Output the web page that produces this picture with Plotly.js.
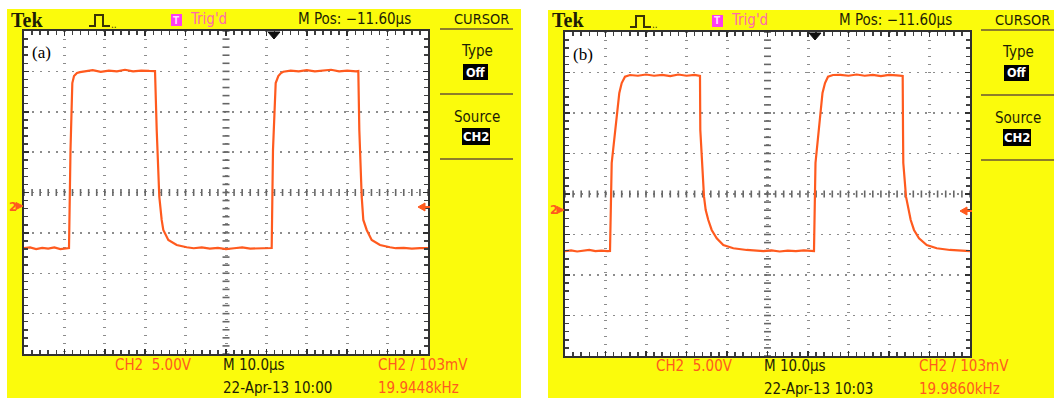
<!DOCTYPE html>
<html><head><meta charset="utf-8">
<script src="https://cdn.plot.ly/plotly-3.0.1.min.js"></script>
<style>html,body{margin:0;padding:0;background:#fff}#chart{width:1054px;height:398px}</style>
</head><body><div id="chart"></div>
<script>
// ---------- DATA (time in µs, CH2 in V as displayed on screen, 10 µs/div, 5 V/div) ----------
const tA = [0,1.5,3,4.5,6,7.5,9,10.5,11.14,11.51,11.81,11.96,12.38,13.12,13.86,15,17,19,21,23,25,27,29,31,32.3,
  32.43,32.85,33.49,34.08,34.48,35.72,37.8,40.27,42,44,46,48,50,52,54,56,58,60,61.2,
  61.31,61.63,62.13,62.3,62.95,63.61,64.18,66,68,70,72,74,76,78,80,82.2,
  82.75,83.0,83.59,83.99,84.83,86.06,88.12,90.59,92,94,96,98,100];
const vA = [-6.9,-6.8,-7.0,-6.85,-6.95,-6.8,-7.0,-6.9,-6.87,5.26,12.69,13.55,14.42,14.79,14.91,15.0,15.15,14.95,15.1,15.0,15.2,15.0,15.1,15.05,15.0,
  15.04,7.74,-0.52,-3.4,-4.64,-5.88,-6.5,-6.78,-6.9,-6.8,-6.95,-6.85,-7.0,-6.9,-6.8,-6.95,-6.9,-6.85,-6.9,
  -6.87,5.26,12.69,13.55,14.42,14.79,14.95,15.1,15.0,15.15,15.0,15.1,15.2,15.0,15.1,15.0,
  15.04,7.74,-0.52,-3.4,-4.64,-5.88,-6.5,-6.78,-6.9,-6.85,-6.95,-6.9,-6.9];

const tB = [0,1.5,3,4.5,6,7.5,9,10.5,11.11,11.53,11.78,12.35,12.91,13.41,14.0,14.81,16.05,18,20,22,24,26,28,30,32,33.2,
  33.33,33.41,33.9,34.32,34.74,35.38,36.22,37.46,39.09,41.56,44.86,47,49,51,53,55,57,59,61.0,
  61.48,61.85,62.1,62.59,63.09,63.58,64.2,64.94,66.17,68,70,72,74,76,78,80,81.9,
  83.38,83.46,83.53,84.2,84.77,85.36,86.17,87.41,89.31,91.78,95.06,97,100];
const vB = [-7.05,-6.95,-7.1,-7.0,-6.9,-7.05,-7.0,-7.05,-7.04,3.83,5.06,7.9,10.37,12.47,13.7,14.48,14.69,14.6,14.75,14.6,14.7,14.55,14.75,14.6,14.7,14.65,
  14.57,7.9,3.83,-0.33,-1.98,-3.21,-4.44,-5.47,-6.3,-6.7,-6.91,-7.0,-7.05,-6.95,-7.1,-7.0,-7.05,-6.95,-7.0,
  -7.04,3.83,5.06,7.9,10.37,12.47,13.7,14.48,14.69,14.7,14.6,14.75,14.6,14.7,14.55,14.7,14.65,
  14.57,7.9,3.83,-0.33,-1.98,-3.21,-4.44,-5.47,-6.3,-6.7,-6.91,-7.0,-7.05];

const panelLabels = ['(a)','(b)'];
const timeStamps = ['22-Apr-13 10:00','22-Apr-13 10:03'];
const freqs = ['19.9448kHz','19.9860kHz'];
const headerTexts = {tek:'Tek', trig:"Trig'd", mpos:'M Pos: \u221211.60\u00b5s', menu:'CURSOR', type:'Type', off:'Off', source:'Source', ch:'CH2'};
const footTexts = {ch:'CH2  5.00V', m:'M 10.0\u00b5s', trig:'CH2 / 103mV'};

// ---------- LAYOUT HELPERS ----------
const W = 1054, H = 398;
const fx = x => x / W, fy = y => 1 - y / H;
const YEL = '#fbfb0c', ORG = '#ff5a1e', DARK = '#1e1e05', OLIVE = '#8e7e2a';
const FONT = 'Liberation Sans Narrow, DejaVu Sans Condensed, Liberation Sans, Arial, sans-serif';
const shapes = [], annotations = [];

function rect(x0,y0,x1,y1,fill,layer){shapes.push({type:'rect',xref:'paper',yref:'paper',x0:fx(x0),x1:fx(x1),y0:fy(y1),y1:fy(y0),fillcolor:fill,line:{width:0},layer:layer||'below'});}
function line(x0,y0,x1,y1,color,w){shapes.push({type:'line',xref:'paper',yref:'paper',x0:fx(x0),x1:fx(x1),y0:fy(y0),y1:fy(y1),line:{color:color,width:w}});}
function path(pts,fill,color,w,close){let d='M'+pts.map(p=>fx(p[0]).toFixed(5)+','+fy(p[1]).toFixed(5)).join(' L')+(close?' Z':'');
  shapes.push({type:'path',xref:'paper',yref:'paper',path:d,fillcolor:fill||'rgba(0,0,0,0)',line:{color:color,width:w},layer:'above'});}
function text(x,y,t,opts){opts=opts||{};annotations.push({xref:'paper',yref:'paper',x:fx(x),y:fy(y),text:t,showarrow:false,
  xanchor:opts.anchor||'left',yanchor:'middle',font:{family:opts.family||FONT,size:opts.size||14.5,color:opts.color||DARK,weight:opts.weight||'normal'},
  bgcolor:opts.bg||'rgba(0,0,0,0)',borderpad:opts.pad||0});}

const grids = [{dx:0,dy:0,gx0:24,gx1:428,gy0:31,gy1:354,gnd:206},{dx:541,dy:1,gx0:565,gx1:970,gy0:32,gy1:356,gnd:210}];

grids.forEach((g,i)=>{
  const dx=g.dx, dy=g.dy;
  rect(7+dx,9+dy,i===0?521:1054,398,YEL);
  rect(g.gx0,g.gy0,g.gx1,g.gy1,'#ffffff');
  // header
  text(10+dx,19.5+dy,headerTexts.tek,{family:'Liberation Serif, DejaVu Serif, serif',size:20,weight:'bold',color:DARK});
  path([[89+dx,26+dy],[95+dx,26+dy],[95+dx,15+dy],[103+dx,15+dy],[103+dx,26+dy],[110+dx,26+dy]],null,'#3a3405',2);
  text(110+dx,24+dy,'..',{size:10,color:'#3a3405'});
  rect(171+dx,14+dy,182+dx,26+dy,'#ff3cf0','above');
  text(176.5+dx,20+dy,'T',{anchor:'center',size:10,color:'#ffd8ff',weight:'bold'});
  text(189+dx,19+dy,headerTexts.trig,{color:'#ff6aa8',size:15});
  text(297+dx,19+dy,headerTexts.mpos,{size:15});
  text(481+dx,19+dy,headerTexts.menu,{anchor:'center',size:14.5});
  line(440+dx,29+dy,513+dx,29+dy,OLIVE,2);
  text(477+dx,51+dy,headerTexts.type,{anchor:'center',size:15});
  rect(463+dx,64+dy,488+dx,80+dy,'#000000','above');
  text(475.5+dx,72+dy,headerTexts.off,{anchor:'center',size:12.5,color:'#ffffff',weight:'bold'});
  line(440+dx,94+dy,513+dx,94+dy,OLIVE,2);
  text(477+dx,117+dy,headerTexts.source,{anchor:'center',size:15});
  rect(462+dx,128+dy,490+dx,145+dy,'#000000','above');
  text(476+dx,136.5+dy,headerTexts.ch,{anchor:'center',size:13,color:'#ffffff',weight:'bold'});
  line(440+dx,159+dy,513+dx,159+dy,OLIVE,2);
  // panel label
  text(31+dx,53+dy,panelLabels[i],{family:'Liberation Serif, DejaVu Serif, serif',size:17,color:'#000'});
  // trigger position arrow (top)
  path([[268+dx,g.gy0+1],[280+dx,g.gy0+1],[274+dx,g.gy0+8]],'#111','#111',1,true);
  // ground marker (left) and trigger level (right)
  text(8+dx,g.gnd,'2',{size:13,color:ORG,weight:'bold'});
  path([[16+dx,g.gnd-3.5],[23+dx,g.gnd],[16+dx,g.gnd+3.5]],ORG,ORG,1,true);
  path([[g.gx1-10,g.gnd+1],[g.gx1-3,g.gnd-3],[g.gx1-3,g.gnd+5]],ORG,ORG,1,true);
  line(g.gx1-4,g.gnd+1,g.gx1+2,g.gnd+1,ORG,2);
  // footer
  text(114+dx,365+dy,footTexts.ch,{color:ORG,size:15});
  text(222+dx,365+dy,footTexts.m,{size:15});
  text(377+dx,365+dy,footTexts.trig,{color:ORG,size:15});
  text(222+dx,388+dy,timeStamps[i],{size:15});
  text(377+dx,388+dy,freqs[i],{color:ORG,size:15});
});

function axX(g){return {domain:[fx(g.gx0),fx(g.gx1)],range:[0,100],tick0:0,dtick:10,showticklabels:false,showgrid:true,
  gridcolor:'#8c8c8c',gridwidth:3,griddash:'1px,7px',zeroline:false,showline:true,linecolor:'#303030',linewidth:2,mirror:'allticks',
  ticks:'inside',ticklen:5,tickwidth:1.5,tickcolor:'#303030',minor:{dtick:2,ticks:'inside',ticklen:4,tickwidth:1.5,tickcolor:'#404040',showgrid:false},fixedrange:true};}
function axY(g){return {domain:[fy(g.gy1),fy(g.gy0)],range:[-20,20],tick0:0,dtick:5,showticklabels:false,showgrid:true,
  gridcolor:'#8c8c8c',gridwidth:1.5,griddash:'2px,6px',zeroline:false,showline:true,linecolor:'#303030',linewidth:2,mirror:'allticks',
  ticks:'inside',ticklen:5,tickwidth:1.5,tickcolor:'#303030',minor:{dtick:1,ticks:'inside',ticklen:4,tickwidth:1.5,tickcolor:'#404040',showgrid:false},fixedrange:true};}

// centre graticule tick marks (decoration)
const cxT=[],cyT=[],vxT=[],vyT=[];
for(let k=0;k<=50;k++){cxT.push(k*2);cyT.push(0);}
for(let k=0;k<=40;k++){vxT.push(50);vyT.push(-20+k);}

const traces=[];
[['x','y'],['x2','y2']].forEach(ax=>{
  traces.push({type:'scatter',mode:'markers',x:cxT,y:cyT,xaxis:ax[0],yaxis:ax[1],marker:{symbol:'line-ns',size:5,line:{width:1.6,color:'#666666'}},hoverinfo:'skip'});
  traces.push({type:'scatter',mode:'markers',x:vxT,y:vyT,xaxis:ax[0],yaxis:ax[1],marker:{symbol:'line-ew',size:5,line:{width:1.6,color:'#666666'}},hoverinfo:'skip'});
});
traces.push({type:'scatter',mode:'lines',x:tA,y:vA,xaxis:'x',yaxis:'y',line:{color:ORG,width:2.2},hoverinfo:'skip'});
traces.push({type:'scatter',mode:'lines',x:tB,y:vB,xaxis:'x2',yaxis:'y2',line:{color:ORG,width:2.2},hoverinfo:'skip'});

const layout={width:W,height:H,margin:{l:0,r:0,t:0,b:0},paper_bgcolor:'#ffffff',plot_bgcolor:'rgba(0,0,0,0)',showlegend:false,hovermode:false,
  xaxis:axX(grids[0]),yaxis:Object.assign(axY(grids[0]),{anchor:'x'}),
  xaxis2:Object.assign(axX(grids[1]),{anchor:'y2'}),yaxis2:Object.assign(axY(grids[1]),{anchor:'x2'}),
  shapes:shapes,annotations:annotations};
layout.xaxis.anchor='y';
Plotly.newPlot('chart',traces,layout,{staticPlot:true,displayModeBar:false});
</script></body></html>
